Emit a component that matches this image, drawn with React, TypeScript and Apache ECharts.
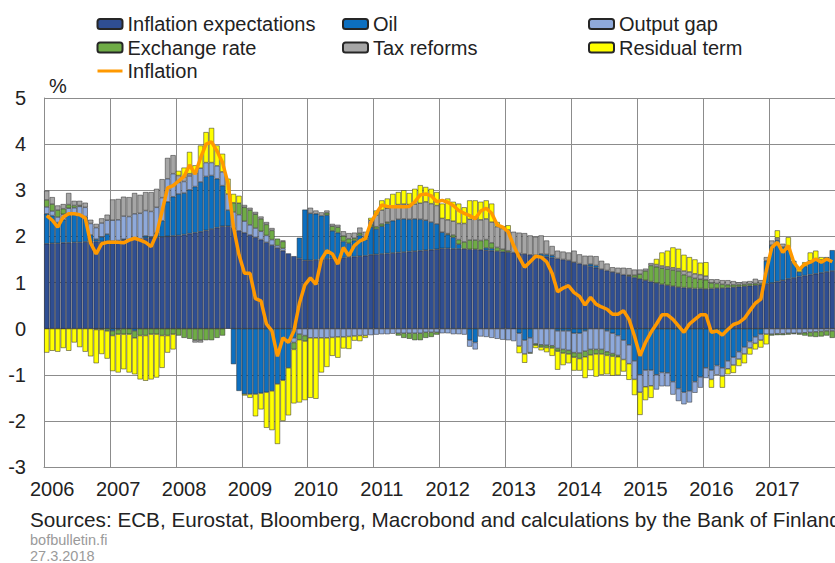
import React, { useEffect, useRef } from 'react';
import * as echarts from 'echarts';

const years = ['2006', '2007', '2008', '2009', '2010', '2011', '2012', '2013', '2014', '2015', '2016', '2017'];

const inflationExpectations = [
  1.84, 1.85, 1.85, 1.86, 1.86, 1.87, 1.87, 1.88, 1.88, 1.89, 1.89, 1.90,
  1.90, 1.91, 1.92, 1.93, 1.94, 1.95, 1.96, 1.97, 1.98, 1.99, 2.00, 2.01,
  2.02, 2.04, 2.06, 2.08, 2.10, 2.13, 2.16, 2.19, 2.22, 2.22, 2.18, 2.12,
  2.08, 2.03, 1.98, 1.93, 1.87, 1.81, 1.75, 1.69, 1.63, 1.57, 1.52, 1.48,
  1.48, 1.49, 1.50, 1.51, 1.52, 1.53, 1.54, 1.55, 1.56, 1.57, 1.58, 1.60,
  1.61, 1.62, 1.63, 1.64, 1.65, 1.66, 1.67, 1.68, 1.69, 1.70, 1.71, 1.72,
  1.74, 1.74, 1.73, 1.73, 1.73, 1.72, 1.72, 1.71, 1.70, 1.69, 1.68, 1.67,
  1.66, 1.65, 1.63, 1.62, 1.60, 1.59, 1.57, 1.56, 1.54, 1.52, 1.50, 1.48,
  1.44, 1.41, 1.38, 1.35, 1.32, 1.29, 1.26, 1.23, 1.20, 1.17, 1.14, 1.11,
  1.08, 1.05, 1.02, 0.99, 0.96, 0.94, 0.92, 0.90, 0.89, 0.88, 0.87, 0.87,
  0.86, 0.87, 0.88, 0.88, 0.89, 0.90, 0.91, 0.92, 0.93, 0.94, 0.95, 0.97,
  0.99, 1.02, 1.05, 1.08, 1.10, 1.13, 1.15, 1.17, 1.19, 1.21, 1.23, 1.25,
];

const oil = [
  0.65, 0.60, 0.45, 0.50, 0.60, 0.60, 0.60, 0.55, 0.15, 0.05, 0.10, 0.15,
  -0.05, -0.02, 0.02, 0, -0.05, 0, 0.05, 0.02, 0.10, 0.35, 0.75, 0.85,
  0.90, 0.90, 0.95, 1.00, 1.08, 1.17, 1.16, 1.06, 0.88, 0.35, -0.77, -1.35,
  -1.42, -1.42, -1.42, -1.40, -1.38, -1.35, -1.20, -1.12, -0.85, -0.20, 0.45, 1.10,
  1.02, 1.00, 0.95, 0.95, 0.60, 0.55, 0.35, 0.30, 0.35, 0.45, 0.35, 0.60,
  0.55, 0.60, 0.65, 0.70, 0.72, 0.72, 0.70, 0.70, 0.68, 0.65, 0.60, 0.55,
  0.35, 0.30, 0.25, 0.10, 0, -0.25, -0.30, 0, 0.05, 0.05, 0, 0,
  0, 0, -0.10, -0.25, -0.20, 0, 0.05, 0.05, 0.05, -0.05, -0.05, -0.05,
  -0.10, -0.10, -0.05, 0.05, 0.05, 0, -0.05, -0.10, -0.15, -0.25, -0.35, -0.70,
  -1.00, -0.90, -0.90, -1.00, -0.95, -0.96, -1.15, -1.30, -1.38, -1.35, -1.15, -1.05,
  -0.85, -0.90, -0.80, -0.85, -0.70, -0.62, -0.50, -0.40, -0.28, -0.18, -0.12, 0.50,
  0.82, 0.90, 0.72, 0.62, 0.37, 0.10, 0.20, 0.30, 0.30, 0.28, 0.32, 0.45,
];

const outputGap = [
  0.15, 0.10, 0.12, 0.12, 0.15, 0.15, 0.18, 0.20, 0.25, 0.25, 0.30, 0.30,
  0.45, 0.45, 0.50, 0.50, 0.55, 0.55, 0.55, 0.55, 0.55, 0.50, 0.50, 0.50,
  0.25, 0.25, 0.30, 0.30, 0.30, 0.30, 0.28, 0.28, 0.30, 0.35, 0.35, 0.35,
  0.25, 0.22, 0.20, 0.18, 0.15, 0.12, 0.05, 0.05, 0, -0.10, -0.12, -0.15,
  -0.20, -0.20, -0.20, -0.20, -0.19, -0.18, -0.18, -0.17, -0.16, -0.15, -0.15, -0.14,
  -0.13, -0.12, -0.12, -0.11, -0.10, -0.10, -0.10, -0.10, -0.10, -0.08, -0.08, -0.08,
  -0.10, -0.10, -0.12, -0.12, -0.13, -0.14, -0.15, -0.17, -0.18, -0.20, -0.22, -0.24,
  -0.25, -0.27, -0.28, -0.30, -0.32, -0.33, -0.35, -0.36, -0.37, -0.38, -0.40, -0.42,
  -0.42, -0.43, -0.44, -0.45, -0.45, -0.45, -0.45, -0.44, -0.43, -0.42, -0.41, -0.40,
  -0.38, -0.36, -0.34, -0.32, -0.30, -0.29, -0.28, -0.27, -0.26, -0.25, -0.24, -0.23,
  -0.22, -0.20, -0.20, -0.18, -0.17, -0.17, -0.16, -0.15, -0.14, -0.14, -0.13, -0.12,
  -0.12, -0.11, -0.11, -0.10, -0.10, -0.10, -0.09, -0.08, -0.07, -0.06, -0.05, -0.05,
];

const exchangeRate = [
  0.15, 0.15, 0.15, 0.12, 0.08, 0.05, 0.02, 0, 0, -0.02, -0.02, -0.05,
  -0.10, -0.10, -0.12, -0.12, -0.15, -0.15, -0.15, -0.12, -0.12, -0.15, -0.15, -0.12,
  -0.15, -0.20, -0.22, -0.25, -0.25, -0.25, -0.25, -0.20, -0.15, 0, 0.20, 0.25,
  0.30, 0.32, 0.30, 0.27, 0.24, 0.20, 0.15, 0.15, 0, -0.15, -0.12, -0.12,
  0, 0, 0, 0.05, 0.10, 0.12, 0.12, 0.10, 0.05, 0.05, 0.05, 0.05,
  0.05, 0.05, 0.03, 0, -0.05, -0.10, -0.12, -0.15, -0.15, -0.12, -0.10, -0.05,
  0, 0.02, 0.05, 0.10, 0.15, 0.20, 0.20, 0.20, 0.18, 0.12, 0.08, 0.05,
  0.03, 0, 0, 0, -0.02, -0.03, -0.05, -0.05, -0.05, -0.06, -0.08, -0.08,
  -0.10, -0.12, -0.12, -0.12, -0.10, -0.10, -0.08, -0.06, -0.03, 0, 0.02, 0.05,
  0.10, 0.20, 0.35, 0.35, 0.35, 0.35, 0.35, 0.35, 0.28, 0.25, 0.22, 0.20,
  0.20, 0.12, 0.10, 0.08, 0.06, 0.05, 0.04, 0.04, 0.04, 0.04, 0.03, 0,
  -0.03, -0.03, -0.03, -0.03, -0.02, -0.03, -0.06, -0.09, -0.11, -0.11, -0.10, -0.15,
];

const taxReforms = [
  0.20, 0.15, 0.10, 0.10, 0.25, 0.10, 0.10, 0.10, 0.08, 0.08, 0.10, 0.12,
  0.45, 0.45, 0.42, 0.42, 0.45, 0.40, 0.40, 0.42, 0.40, 0.40, 0.45, 0.40,
  0.15, 0.10, 0.05, -0.05, -0.05, 0, 0, 0, 0, 0, 0, 0,
  0.05, 0.05, 0.05, 0.05, 0.05, 0.05, 0, 0.02, 0, 0, 0, 0,
  0.12, 0.07, 0.07, 0.05, 0.05, 0.05, 0.10, 0.12, 0.12, 0.12, 0.12, 0.10,
  0.25, 0.30, 0.30, 0.30, 0.32, 0.32, 0.32, 0.32, 0.35, 0.40, 0.40, 0.40,
  0.30, 0.30, 0.30, 0.35, 0.40, 0.45, 0.45, 0.45, 0.45, 0.45, 0.45, 0.45,
  0.45, 0.45, 0.45, 0.45, 0.42, 0.40, 0.40, 0.30, 0.20, 0.17, 0.17, 0.17,
  0.25, 0.20, 0.20, 0.18, 0.20, 0.18, 0.15, 0.10, 0.12, 0.15, 0.15, 0.12,
  0.10, 0.05, 0.05, 0.05, 0.05, 0.05, 0.05, 0.05, 0.08, 0.10, 0.10, 0.10,
  0.08, 0.08, 0.09, 0.09, 0.10, 0.08, 0.05, 0.06, 0.06, 0.10, 0.07, 0.08,
  0.10, 0.05, 0.07, 0.05, 0, 0, 0, 0, 0, 0, 0, 0,
];

const residualTerm = [
  -0.52, -0.48, -0.50, -0.42, -0.48, -0.30, -0.40, -0.50, -0.60, -0.73, -0.53, -0.60,
  -0.77, -0.83, -0.76, -0.83, -0.79, -0.95, -0.98, -0.98, -0.94, -0.70, -0.37, -0.33,
  0.10, 0.20, 0.47, 0.16, 0.49, 0.66, 0.75, 0.44, 0.39, 0.33, 0.19, 0.16,
  -0.03, -0.08, -0.48, -0.35, -0.77, -0.85, -1.30, -0.88, -1.03, -1.17, -1.36, -1.28,
  -1.30, -1.32, -0.75, -0.63, -0.40, -0.45, -0.25, -0.27, -0.10, -0.12, -0.05, 0.05,
  0.10, 0.21, 0.21, 0.28, 0.27, 0.30, 0.25, 0.33, 0.39, 0.32, 0.32, 0.29,
  0.32, 0.46, 0.42, 0.43, 0.35, 0.41, 0.41, 0.39, 0.40, 0.40, 0.10, 0.05,
  0.10, 0, -0.15, -0.19, 0, -0.06, -0.07, -0.10, -0.17, -0.40, -0.26, -0.20,
  -0.29, -0.26, -0.46, -0.33, -0.49, -0.45, -0.41, -0.42, -0.40, -0.26, -0.35, -0.34,
  -0.49, -0.29, -0.26, 0.12, 0.29, 0.35, 0.44, 0.43, 0.35, 0.32, 0.31, 0.26,
  0.30, -0.18, 0, -0.25, -0.12, -0.17, -0.15, -0.20, -0.14, -0.13, -0.16, -0.22,
  0, 0.16, 0, 0.23, 0, 0.07, 0.09, 0.18, 0.20, 0.06, 0, 0,
];

const inflation = [
  2.45, 2.35, 2.20, 2.42, 2.49, 2.49, 2.47, 2.40, 1.85, 1.62, 1.84, 1.87,
  1.87, 1.87, 1.86, 1.92, 1.96, 1.92, 1.87, 1.78, 2.05, 2.55, 3.05, 3.10,
  3.20, 3.30, 3.55, 3.35, 3.70, 4.00, 4.05, 3.85, 3.60, 3.15, 2.20, 1.60,
  1.20, 1.20, 0.65, 0.60, 0.10, -0.05, -0.60, -0.20, -0.30, -0.05, 0.55, 0.95,
  1.10, 0.96, 1.50, 1.69, 1.62, 1.40, 1.76, 1.58, 1.80, 1.90, 1.95, 2.30,
  2.50, 2.68, 2.65, 2.64, 2.64, 2.64, 2.65, 2.75, 2.90, 2.92, 2.88, 2.75,
  2.78, 2.74, 2.67, 2.56, 2.50, 2.45, 2.38, 2.55, 2.61, 2.50, 2.25, 2.20,
  2.10, 1.80, 1.55, 1.33, 1.45, 1.57, 1.55, 1.45, 1.20, 0.80, 0.88, 0.93,
  0.78, 0.70, 0.51, 0.68, 0.53, 0.47, 0.42, 0.31, 0.31, 0.39, 0.20, -0.16,
  -0.59, -0.30, -0.08, 0.10, 0.30, 0.30, 0.20, 0.06, -0.08, 0.10, 0.20, 0.30,
  0.30, -0.08, -0.05, -0.14, -0.02, 0.09, 0.13, 0.22, 0.39, 0.55, 0.64, 1.26,
  1.76, 1.87, 1.65, 1.80, 1.44, 1.28, 1.40, 1.44, 1.51, 1.44, 1.51, 1.45,
];

const FONT = "'Liberation Sans', Arial, sans-serif";
const TEXT = '#222222';
const GRID = '#8c8c8c';
const ORANGE = '#FF9900';

export default function App() {
  const ref = useRef<HTMLDivElement>(null);

  useEffect(() => {
    const el = ref.current;
    if (!el) return;
    const chart = echarts.init(el, null, { renderer: 'svg' });

    const categories = years.flatMap((y) =>
      Array.from({ length: 12 }, (_, i) => `${y}-${String(i + 1).padStart(2, '0')}`)
    );
    const clean = (arr: number[]) => arr.map((v) => (v === 0 ? '-' : v));

    const bars = [
      { name: 'Inflation expectations', data: inflationExpectations, color: '#2F4E92' },
      { name: 'Oil', data: oil, color: '#0C6FC0' },
      { name: 'Output gap', data: outputGap, color: '#8EA9DB' },
      { name: 'Exchange rate', data: exchangeRate, color: '#6FAC46' },
      { name: 'Tax reforms', data: taxReforms, color: '#A6A6A6' },
      { name: 'Residual term', data: residualTerm, color: '#FFFF00' },
    ].map((s) => ({
      type: 'bar',
      name: s.name,
      stack: 'total',
      data: clean(s.data),
      barCategoryGap: '6%',
      itemStyle: { color: s.color, borderColor: '#262626', borderWidth: 0.5 },
      emphasis: { disabled: true },
      z: 2,
    }));

    const legendBase = {
      orient: 'vertical',
      top: 14,
      padding: 0,
      itemWidth: 25,
      itemHeight: 10,
      itemGap: 3.5,
      selectedMode: false,
      textStyle: { fontSize: 20, lineHeight: 20, color: TEXT, fontFamily: FONT },
    };

    chart.setOption({
      animation: false,
      backgroundColor: '#ffffff',
      textStyle: { fontFamily: FONT },
      grid: { left: 44, right: -5, top: 98, bottom: 96 },
      legend: [
        {
          ...legendBase,
          left: 96,
          data: [
            'Inflation expectations',
            'Exchange rate',
            { name: 'Inflation', itemStyle: { opacity: 0 }, lineStyle: { color: ORANGE, width: 3 } },
          ],
        },
        { ...legendBase, left: 342, data: ['Oil', 'Tax reforms'] },
        { ...legendBase, left: 588, data: ['Output gap', 'Residual term'] },
      ],
      xAxis: {
        type: 'category',
        data: categories,
        boundaryGap: true,
        axisLine: { show: true, onZero: false, lineStyle: { color: GRID } },
        axisTick: { show: false },
        splitLine: {
          show: true,
          interval: (i: number) => i % 12 === 0,
          lineStyle: { color: GRID, width: 1 },
        },
        axisLabel: {
          interval: (i: number) => i % 12 === 0,
          formatter: (v: string) => v.slice(0, 4),
          fontSize: 20,
          color: TEXT,
          fontFamily: FONT,
          margin: 12,
          padding: [0, 0, 0, 11],
        },
      },
      yAxis: {
        type: 'value',
        min: -3,
        max: 5,
        interval: 1,
        name: '%',
        nameLocation: 'end',
        nameGap: 2,
        nameTextStyle: { fontSize: 20, color: TEXT, fontFamily: FONT, align: 'left', padding: [0, 0, 0, 5] },
        axisLine: { show: true, lineStyle: { color: GRID } },
        axisTick: { show: false },
        splitLine: { show: true, lineStyle: { color: GRID, width: 1 } },
        axisLabel: { fontSize: 20, color: TEXT, fontFamily: FONT, margin: 18 },
      },
      series: [
        ...bars,
        {
          type: 'line',
          name: 'Inflation',
          data: inflation,
          symbol: 'none',
          lineStyle: { color: ORANGE, width: 3.5 },
          itemStyle: { color: ORANGE },
          emphasis: { disabled: true },
          z: 5,
        },
      ],
      graphic: [
        {
          type: 'text',
          x: 30,
          y: 519,
          style: {
            text: 'Sources: ECB, Eurostat, Bloomberg, Macrobond and calculations by the Bank of Finland',
            fontSize: 20.7,
            fontFamily: FONT,
            fill: TEXT,
            verticalAlign: 'middle',
          },
        },
        {
          type: 'text',
          x: 30,
          y: 540,
          style: { text: 'bofbulletin.fi', fontSize: 14.5, fontFamily: FONT, fill: '#9a9a9a', verticalAlign: 'middle' },
        },
        {
          type: 'text',
          x: 30,
          y: 555.5,
          style: { text: '27.3.2018', fontSize: 14.5, fontFamily: FONT, fill: '#9a9a9a', verticalAlign: 'middle' },
        },
      ],
    });

    return () => chart.dispose();
  }, []);

  return (
    <div
      ref={ref}
      style={{ position: 'fixed', left: 0, top: 0, width: 835, height: 563, background: '#fff', overflow: 'hidden' }}
    />
  );
}
